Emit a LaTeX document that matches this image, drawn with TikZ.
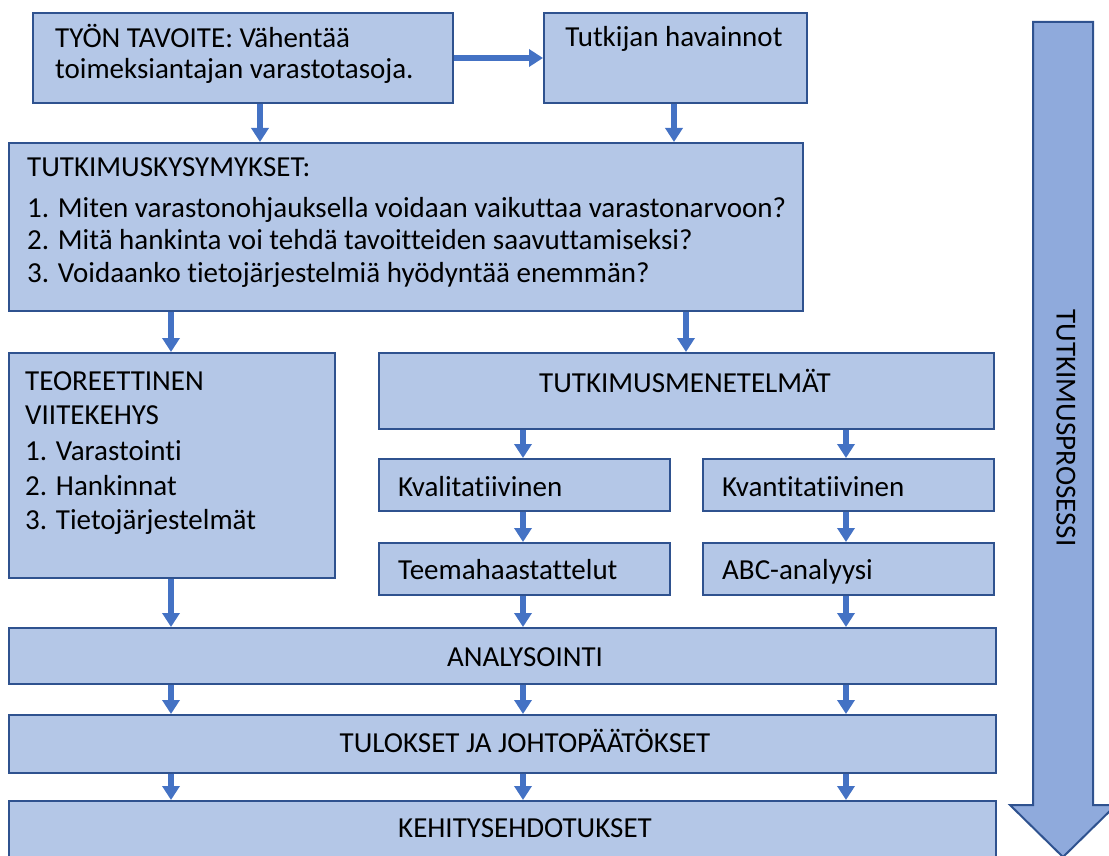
\documentclass[tikz,border=0pt]{standalone}
\usepackage{fontspec}
\setmainfont{Carlito}[Ligatures=NoCommon]
\usetikzlibrary{arrows.meta}
\definecolor{boxfill}{HTML}{B4C7E7}
\definecolor{boxline}{HTML}{2F528F}
\definecolor{flow}{HTML}{4472C4}
\definecolor{bigfill}{HTML}{8FAADC}
\tikzset{
  box/.style={draw=boxline, fill=boxfill, line width=2pt, anchor=north west, inner sep=0pt},
  txt/.style={anchor=base west, inner sep=0pt, font=\fontsize{29}{33}\selectfont},
  ctxt/.style={anchor=base, inner sep=0pt, font=\fontsize{29}{33}\selectfont},
  arr/.style={draw=flow, line width=6pt, -{Triangle[width=17pt,length=14pt]}},
}
\newcommand{\boxat}[5]{\node[box, minimum width=#4pt, minimum height=#5pt] (#1) at (#2,#3) {};}
\begin{document}
\begin{tikzpicture}[x=1pt,y=-1pt]
\useasboundingbox (0,0) rectangle (1109,856);

% process arrow on the right
\draw[boxline, fill=bigfill, line width=2pt]
  (1033,22) -- (1093,22) -- (1093,805) -- (1116,805) -- (1063,857)
  -- (1010,805) -- (1033,805) -- cycle;
\node[rotate=-90, inner sep=0pt, font=\fontsize{29}{33}\selectfont] (proc) at (1066,428) {TUTKIMUSPROSESSI};

% boxes
\boxat{goal}{32}{12}{420}{90}
\boxat{obs}{543}{12}{263}{90}
\boxat{quest}{8}{142}{794}{168}
\boxat{theory}{8}{352}{326}{225}
\boxat{methods}{378}{352}{615}{76}
\boxat{qual}{378}{458}{291}{52}
\boxat{quant}{702}{458}{291}{52}
\boxat{themes}{378}{542}{291}{52}
\boxat{abc}{702}{542}{291}{52}
\boxat{anal}{8}{627}{987}{56}
\boxat{results}{8}{714}{987}{58}
\boxat{dev}{8}{800}{987}{60}

% texts
\node[txt] (t1a) at (55,48) {TYÖN TAVOITE: Vähentää};
\node[txt] (t1b) at (55,79) {toimeksiantajan varastotasoja.};
\node[ctxt] (t2) at (674,47) {Tutkijan havainnot};
\node[txt] (t3a) at (27,177) {TUTKIMUSKYSYMYKSET:};
\node[txt] (t3b) at (27,217) {1. Miten varastonohjauksella voidaan vaikuttaa varastonarvoon?};
\node[txt] (t3c) at (27,249) {2. Mitä hankinta voi tehdä tavoitteiden saavuttamiseksi?};
\node[txt] (t3d) at (27,282) {3. Voidaanko tietojärjestelmiä hyödyntää enemmän?};
\node[txt] (t4a) at (25,390) {TEOREETTINEN};
\node[txt] (t4b) at (25,424) {VIITEKEHYS};
\node[txt] (t4c) at (25,460) {1. Varastointi};
\node[txt] (t4d) at (25,495) {2. Hankinnat};
\node[txt] (t4e) at (25,529) {3. Tietojärjestelmät};
\node[ctxt] (t5) at (685,392) {TUTKIMUSMENETELMÄT};
\node[txt] (t6) at (398,496) {Kvalitatiivinen};
\node[txt] (t7) at (722,496) {Kvantitatiivinen};
\node[txt] (t8) at (398,579) {Teemahaastattelut};
\node[txt] (t9) at (722,579) {ABC-analyysi};
\node[ctxt] (t10) at (525,666) {ANALYSOINTI};
\node[ctxt] (t11) at (525,752) {TULOKSET JA JOHTOPÄÄTÖKSET};
\node[ctxt] (t12) at (525,837) {KEHITYSEHDOTUKSET};

% arrow columns
\coordinate (cA) at (260,0);
\coordinate (cB) at (674,0);
\coordinate (cC) at (171,0);
\coordinate (cD) at (686,0);
\coordinate (cE) at (523,0);
\coordinate (cF) at (846,0);

% connectors
\draw[arr] (goal.east) -- (obs.west);
\draw[arr] (goal.south -| cA) -- (quest.north -| cA);
\draw[arr] (obs.south -| cB) -- (quest.north -| cB);
\draw[arr] (quest.south -| cC) -- (theory.north -| cC);
\draw[arr] (quest.south -| cD) -- (methods.north -| cD);
\draw[arr] (methods.south -| cE) -- (qual.north -| cE);
\draw[arr] (methods.south -| cF) -- (quant.north -| cF);
\draw[arr] (qual.south -| cE) -- (themes.north -| cE);
\draw[arr] (quant.south -| cF) -- (abc.north -| cF);
\draw[arr] (theory.south -| cC) -- (anal.north -| cC);
\draw[arr] (themes.south -| cE) -- (anal.north -| cE);
\draw[arr] (abc.south -| cF) -- (anal.north -| cF);
\draw[arr] (anal.south -| cC) -- (results.north -| cC);
\draw[arr] (anal.south -| cE) -- (results.north -| cE);
\draw[arr] (anal.south -| cF) -- (results.north -| cF);
\draw[arr] (results.south -| cC) -- (dev.north -| cC);
\draw[arr] (results.south -| cE) -- (dev.north -| cE);
\draw[arr] (results.south -| cF) -- (dev.north -| cF);
\end{tikzpicture}
\end{document}
